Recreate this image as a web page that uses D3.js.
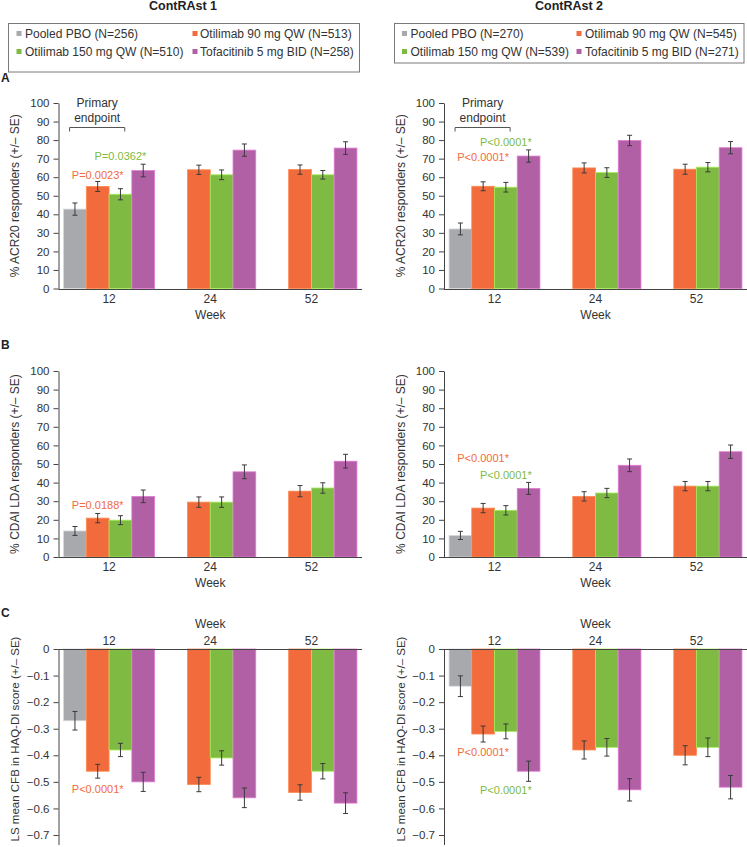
<!DOCTYPE html>
<html><head><meta charset="utf-8">
<script src="https://cdn.jsdelivr.net/npm/d3@7"></script>
<style>body{margin:0;background:#fff}svg{display:block;font-family:"Liberation Sans",Arial,sans-serif}</style>
</head><body><svg id="c" width="747" height="847"></svg>
<script>
// ---------- data ----------
const weeks = ["12", "24", "52"];
const treatments = ["Pooled PBO", "Otilimab 90 mg QW", "Otilimab 150 mg QW", "Tofacitinib 5 mg BID"];
const colors = ["#a7a9ac", "#f26b3d", "#7fba42", "#b160a6"];
const studies = ["ContRAst 1", "ContRAst 2"];
const nStudy1 = [256, 513, 510, 258];
const nStudy2 = [270, 545, 539, 271];

const pctTicks = [0, 10, 20, 30, 40, 50, 60, 70, 80, 90, 100];
const haqTicks = [0, -0.1, -0.2, -0.3, -0.4, -0.5, -0.6, -0.7];

// rows = weeks, columns = treatments (null = not assessed)
const acr20Study1 = [[42.8, 55.0, 50.8, 63.6], [null, 64.0, 61.3, 74.6], [null, 64.1, 61.3, 75.7]];
const acr20SeStudy1 = [[3.3, 2.7, 3.0, 3.4], [null, 2.5, 2.6, 3.3], [null, 2.5, 2.3, 3.4]];
const acr20Study2 = [[32.1, 55.1, 54.6, 71.4], [null, 65.0, 62.5, 79.8], [null, 64.3, 65.4, 75.9]];
const acr20SeStudy2 = [[3.2, 2.4, 2.6, 3.3], [null, 2.7, 2.6, 2.8], [null, 2.7, 2.5, 3.3]];

const cdaiStudy1 = [[14.0, 20.9, 19.8, 32.6], [null, 29.5, 29.5, 45.8], [null, 35.4, 37.1, 51.5]];
const cdaiSeStudy1 = [[2.4, 2.5, 2.4, 3.4], [null, 2.8, 2.8, 3.7], [null, 3.0, 2.8, 3.7]];
const cdaiStudy2 = [[11.6, 26.3, 25.1, 36.9], [null, 32.6, 34.4, 49.3], [null, 38.1, 38.1, 56.6]];
const cdaiSeStudy2 = [[2.2, 2.5, 2.5, 3.2], [null, 2.5, 2.5, 3.4], [null, 2.5, 2.5, 3.6]];

const haqStudy1 = [[-0.27, -0.46, -0.38, -0.50], [null, -0.51, -0.41, -0.56], [null, -0.54, -0.46, -0.58]];
const haqSeStudy1 = [[0.035, 0.026, 0.025, 0.036], [null, 0.027, 0.027, 0.037], [null, 0.029, 0.029, 0.039]];
const haqStudy2 = [[-0.14, -0.32, -0.31, -0.46], [null, -0.38, -0.37, -0.53], [null, -0.40, -0.37, -0.52]];
const haqSeStudy2 = [[0.039, 0.030, 0.028, 0.038], [null, 0.034, 0.033, 0.042], [null, 0.036, 0.035, 0.044]];

// p-value annotations: treatment index they refer to, and value level
const pAcr20Study1 = [{ t: 1, text: "P=0.0023*", v: 61.2 }, { t: 2, text: "P=0.0362*", v: 71.5 }];
const pAcr20Study2 = [{ t: 1, text: "P<0.0001*", v: 71 }, { t: 2, text: "P<0.0001*", v: 79 }];
const pCdaiStudy1 = [{ t: 1, text: "P=0.0188*", v: 28 }];
const pCdaiStudy2 = [{ t: 1, text: "P<0.0001*", v: 53.2 }, { t: 2, text: "P<0.0001*", v: 44 }];
const pHaqStudy1 = [{ t: 1, text: "P<0.0001*", v: -0.527 }];
const pHaqStudy2 = [{ t: 1, text: "P<0.0001*", v: -0.388 }, { t: 2, text: "P<0.0001*", v: -0.531 }];

// ---------- drawing ----------
const svg = d3.select("#c");
const TXT = "#333";
const AX = "#444";

// titles + legends
const colX = [{ x0: 58.5, x1: 362, lx: 8.5, lw: 351, lh: 48.5, sw: 16.5, tx: 25, sw2: 192.5, tx2: 200, title: 183 },
              { x0: 444, x1: 747, lx: 394.5, lw: 349.5, lh: 39.5, sw: 402, tx: 410.5, sw2: 576.5, tx2: 585, title: 569 }];
const nLists = [nStudy1, nStudy2];

colX.forEach((c, si) => {
  svg.append("text").attr("x", c.title).attr("y", 6).attr("text-anchor", "middle")
    .attr("dominant-baseline", "central").attr("font-weight", "bold").attr("font-size", 12.5)
    .attr("fill", "#222").text(studies[si]);
  svg.append("rect").attr("x", c.lx).attr("y", 23.5).attr("width", c.lw).attr("height", c.lh)
    .attr("fill", "none").attr("stroke", "#7a7a7a").attr("stroke-width", 1);
  [0, 1, 2, 3].forEach(i => {
    const row = i < 2 ? 0 : 1;
    const col = i % 2;
    const y = row === 0 ? 33.5 : 51.5;
    const sx = col === 0 ? c.sw : c.sw2;
    const tx = col === 0 ? c.tx : c.tx2;
    svg.append("rect").attr("x", sx).attr("y", y - 2.5).attr("width", 5).attr("height", 5).attr("fill", colors[i]);
    svg.append("text").attr("x", tx).attr("y", y).attr("dominant-baseline", "central")
      .attr("font-size", 12).attr("fill", TXT)
      .text(`${treatments[i]} (N=${nLists[si][i]})`);
  });
});

// panel letters
[["A", 78], ["B", 345], ["C", 613]].forEach(([l, y]) => {
  svg.append("text").attr("x", 1).attr("y", y).attr("dominant-baseline", "central")
    .attr("font-weight", "bold").attr("font-size", 12).attr("fill", "#222").text(l);
});

function panel(o) {
  const g = svg.append("g");
  const x = d3.scaleBand().domain(weeks).range([o.x0, o.x1]).paddingInner(0.1).paddingOuter(0.05);
  const xi = d3.scaleBand().domain(d3.range(treatments.length)).range([0, x.bandwidth()]);
  const y = d3.scaleLinear().domain(o.domain).range(o.range);
  const y0 = y(0);

  // bars
  o.values.forEach((row, wi) => {
    row.forEach((v, ti) => {
      if (v == null) return;
      const bx = x(weeks[wi]) + xi(ti);
      const top = Math.min(y(v), y0), h = Math.abs(y(v) - y0);
      g.append("rect").attr("x", bx).attr("y", top).attr("width", xi.bandwidth()).attr("height", h)
        .attr("fill", colors[ti]).attr("stroke", d3.color(colors[ti]).brighter(0.7)).attr("stroke-width", 0.8);
    });
  });
  // error bars
  o.values.forEach((row, wi) => {
    row.forEach((v, ti) => {
      if (v == null) return;
      const cx = x(weeks[wi]) + xi(ti) + xi.bandwidth() / 2;
      const se = o.se[wi][ti];
      const ya = y(v + se), yb = y(v - se);
      const eg = g.append("g").attr("stroke", "#3a3a3a").attr("stroke-width", 1);
      eg.append("line").attr("x1", cx).attr("x2", cx).attr("y1", ya).attr("y2", yb);
      eg.append("line").attr("x1", cx - 2.5).attr("x2", cx + 2.5).attr("y1", ya).attr("y2", ya);
      eg.append("line").attr("x1", cx - 2.5).attr("x2", cx + 2.5).attr("y1", yb).attr("y2", yb);
    });
  });

  // y axis
  const ax = d3.axisLeft(y).tickValues(o.ticks).tickSize(5).tickSizeOuter(0).tickPadding(4)
    .tickFormat(o.fmt);
  const ag = g.append("g").attr("transform", `translate(${o.x0},0)`).call(ax);
  ag.selectAll("path,line").attr("stroke", AX);
  ag.selectAll("text").attr("font-size", 11.5).attr("fill", TXT).attr("font-family", "Liberation Sans, Arial, sans-serif");
  if (o.extendAxis) {
    g.append("line").attr("x1", o.x0 + 0.5).attr("x2", o.x0 + 0.5).attr("y1", o.range[1]).attr("y2", o.extendAxis).attr("stroke", AX);
  }
  // x axis line at zero
  g.append("line").attr("x1", o.x0).attr("x2", o.x1).attr("y1", Math.round(y0) + 0.5).attr("y2", Math.round(y0) + 0.5)
    .attr("stroke", AX).attr("stroke-width", 1);
  // week labels
  weeks.forEach(w => {
    g.append("text").attr("x", x(w) + x.bandwidth() / 2).attr("y", y0 + o.tickDy)
      .attr("text-anchor", "middle").attr("dominant-baseline", "central")
      .attr("font-size", 12).attr("fill", TXT).text(w);
  });
  g.append("text").attr("x", (o.x0 + o.x1) / 2).attr("y", y0 + o.weekDy)
    .attr("text-anchor", "middle").attr("dominant-baseline", "central")
    .attr("font-size", 12).attr("fill", TXT).text("Week");
  // y label
  const ly = (o.range[0] + o.range[1]) / 2 + (o.labelShift || 0);
  g.append("text").attr("transform", `translate(${o.x0 - 43.5},${ly}) rotate(-90)`)
    .attr("text-anchor", "middle").attr("dominant-baseline", "central")
    .attr("font-size", o.labelSize || 12).attr("fill", TXT).text(o.label);

  // p-value annotations
  o.annots.forEach(a => {
    const cx = x(weeks[0]) + xi(a.t) + xi.bandwidth() / 2;
    g.append("text").attr("x", cx).attr("y", y(a.v)).attr("text-anchor", "middle")
      .attr("dominant-baseline", "central").attr("font-size", 11).attr("fill", colors[a.t]).text(a.text);
  });

  // primary endpoint bracket
  if (o.primary) {
    const bx0 = x(weeks[0]) + x.bandwidth() * 0.066;
    const bx1 = x(weeks[0]) + x.bandwidth() * 0.672;
    const by = Math.round(y(87.2)) + 0.5;
    g.append("path").attr("d", `M${bx0},${by + 4}V${by}H${bx1}V${by + 4}`)
      .attr("fill", "none").attr("stroke", "#555").attr("stroke-width", 1);
    const mx = (bx0 + bx1) / 2;
    g.append("text").attr("x", mx).attr("y", by - 25).attr("text-anchor", "middle").attr("dominant-baseline", "central")
      .attr("font-size", 12).attr("fill", TXT).text("Primary");
    g.append("text").attr("x", mx).attr("y", by - 10).attr("text-anchor", "middle").attr("dominant-baseline", "central")
      .attr("font-size", 12).attr("fill", TXT).text("endpoint");
  }
}

const pctFmt = d3.format("d");
const haqFmt = d => d === 0 ? "0" : d3.format(".1f")(d);

const panels = [
  { col: 0, domain: [0, 100], range: [288.5, 103], ticks: pctTicks, fmt: pctFmt, values: acr20Study1, se: acr20SeStudy1,
    label: "% ACR20 responders (+/\u2013 SE)", annots: pAcr20Study1, primary: true, tickDy: 10, weekDy: 26 },
  { col: 1, domain: [0, 100], range: [288.5, 103], ticks: pctTicks, fmt: pctFmt, values: acr20Study2, se: acr20SeStudy2,
    label: "% ACR20 responders (+/\u2013 SE)", annots: pAcr20Study2, primary: true, tickDy: 10, weekDy: 26 },
  { col: 0, domain: [0, 100], range: [557, 371], ticks: pctTicks, fmt: pctFmt, values: cdaiStudy1, se: cdaiSeStudy1,
    label: "% CDAI LDA responders (+/\u2013 SE)", annots: pCdaiStudy1, tickDy: 10, weekDy: 26 },
  { col: 1, domain: [0, 100], range: [557, 371], ticks: pctTicks, fmt: pctFmt, values: cdaiStudy2, se: cdaiSeStudy2,
    label: "% CDAI LDA responders (+/\u2013 SE)", annots: pCdaiStudy2, tickDy: 10, weekDy: 26 },
  { col: 0, domain: [0, -0.7], range: [649, 835], ticks: haqTicks, fmt: haqFmt, values: haqStudy1, se: haqSeStudy1,
    label: "LS mean CFB in HAQ-DI score (+/\u2013 SE)", annots: pHaqStudy1, tickDy: -8, weekDy: -25, extendAxis: 845,
    labelSize: 11.5, labelShift: -3 },
  { col: 1, domain: [0, -0.7], range: [649, 835], ticks: haqTicks, fmt: haqFmt, values: haqStudy2, se: haqSeStudy2,
    label: "LS mean CFB in HAQ-DI score (+/\u2013 SE)", annots: pHaqStudy2, tickDy: -8, weekDy: -25, extendAxis: 845,
    labelSize: 11.5, labelShift: -3 }
];
panels.forEach(p => panel(Object.assign({ x0: colX[p.col].x0, x1: colX[p.col].x1 }, p)));
</script></body></html>
